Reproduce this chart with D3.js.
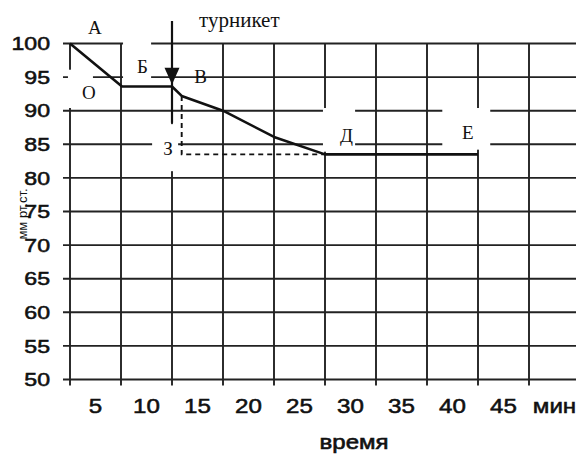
<!DOCTYPE html>
<html>
<head>
<meta charset="utf-8">
<script src="https://cdn.jsdelivr.net/npm/d3@7"></script>
<style>
  body { margin: 0; background: #fff; }
  svg { display: block; }
</style>
</head>
<body>
<div id="wrapper"></div>
<script>
// data
const times = [0, 5.1, 10, 10.95, 15, 20, 25, 40]          // minutes
const pressure = [100, 93.6, 93.6, 92.2, 90, 86.1, 83.5, 83.5] // mm Hg
// dashed projection from the point after the tourniquet
const dashTimes = [10.95, 10.95, 25]
const dashPressure = [92.2, 83.5, 83.5]

const yTicks = [50, 55, 60, 65, 70, 75, 80, 85, 90, 95, 100]
const xGrid = [0, 5, 10, 15, 20, 25, 30, 35, 40, 45]
const xLabels = ["5", "10", "15", "20", "25", "30", "35", "40", "45", "мин"]

function drawChart() {
  const width = 576
  const height = 455

  const svg = d3.select("#wrapper")
    .append("svg")
    .attr("width", width)
    .attr("height", height)

  const xScale = d3.scaleLinear().domain([0, 50]).range([70, 580])
  const yScale = d3.scaleLinear().domain([50, 100]).range([379.5, 43.5])

  const gridColor = "#222"
  const sans = "Liberation Sans, Arial, sans-serif"
  const serif = "Liberation Serif, Times New Roman, serif"

  // horizontal grid lines (with short ticks to the left)
  svg.append("g")
    .selectAll("line")
    .data(yTicks)
    .join("line")
      .attr("x1", xScale(0) - 7)
      .attr("x2", width)
      .attr("y1", d => yScale(d))
      .attr("y2", d => yScale(d))
      .attr("stroke", gridColor)
      .attr("stroke-width", 1.9)

  // vertical grid lines (with ticks below)
  svg.append("g")
    .selectAll("line")
    .data(xGrid)
    .join("line")
      .attr("x1", d => xScale(d))
      .attr("x2", d => xScale(d))
      .attr("y1", yScale(100))
      .attr("y2", yScale(50) + 6)
      .attr("stroke", gridColor)
      .attr("stroke-width", 1.9)

  // y labels
  svg.append("g")
    .selectAll("text")
    .data(yTicks)
    .join("text")
      .attr("transform", d => `translate(50,${yScale(d) + 6.7}) scale(1.25,1)`)
      .attr("text-anchor", "end")
      .attr("font-family", sans)
      .attr("font-size", 18.5)
      .attr("fill", "#111")
      .attr("stroke", "#111")
      .attr("stroke-width", 0.55)
      .text(d => d)

  // x labels sit between the grid lines
  svg.append("g")
    .selectAll("text")
    .data(xLabels)
    .join("text")
      .attr("transform", (d, i) => `translate(${xScale(xGrid[0] + 5 * i + 2.5)},413) scale(1.15,1)`)
      .attr("text-anchor", "middle")
      .attr("font-family", sans)
      .attr("font-size", 21)
      .attr("fill", "#111")
      .attr("stroke", "#111")
      .attr("stroke-width", 0.55)
      .text(d => d)

  svg.append("text")
    .attr("transform", "translate(354,449) scale(1.2,1)")
    .attr("text-anchor", "middle")
    .attr("font-family", sans)
    .attr("font-size", 20)
    .attr("fill", "#111")
    .attr("stroke", "#111")
    .attr("stroke-width", 0.6)
    .text("время")

  svg.append("text")
    .attr("transform", "translate(27,214) rotate(-90)")
    .attr("text-anchor", "middle")
    .attr("font-family", sans)
    .attr("font-size", 13)
    .attr("fill", "#111")
    .text("мм рт.ст.")

  // white boxes behind the letters (t0, t1, p0, p1)
  const boxes = [
    [5.2, 7.95, 101, 94],     // Б
    [-0.2, 2.25, 96.1, 90.4], // О
    [8.05, 10.6, 88, 81],     // З
    [24.8, 27.95, 90.4, 83.9],// Д
    [36.5, 41.2, 90.4, 84.2]  // Е
  ]
  svg.append("g")
    .selectAll("rect")
    .data(boxes)
    .join("rect")
      .attr("x", d => xScale(d[0]))
      .attr("width", d => xScale(d[1]) - xScale(d[0]))
      .attr("y", d => yScale(d[2]))
      .attr("height", d => yScale(d[3]) - yScale(d[2]))
      .attr("fill", "#fff")

  const line = d3.line()
    .x(d => xScale(d[0]))
    .y(d => yScale(d[1]))

  // dashed projection
  svg.append("path")
    .datum(d3.zip(dashTimes, dashPressure))
    .attr("d", line)
    .attr("fill", "none")
    .attr("stroke", "#111")
    .attr("stroke-width", 1.9)
    .attr("stroke-dasharray", "5,4")

  // pressure curve
  svg.append("path")
    .datum(d3.zip(times, pressure))
    .attr("d", line)
    .attr("fill", "none")
    .attr("stroke", "#111")
    .attr("stroke-width", 2.6)
    .attr("stroke-linejoin", "round")

  // tourniquet arrow
  const ax = xScale(10)
  svg.append("line")
    .attr("x1", ax).attr("x2", ax)
    .attr("y1", yScale(103.35)).attr("y2", yScale(88.2))
    .attr("stroke", "#111")
    .attr("stroke-width", 2.2)
  svg.append("path")
    .attr("d", `M${ax - 7.5},${yScale(96.4)} L${ax + 7.5},${yScale(96.4)} L${ax},${yScale(93.9)} Z`)
    .attr("fill", "#111")

  svg.append("text")
    .attr("x", 199)
    .attr("y", 27)
    .attr("font-family", serif)
    .attr("font-size", 21)
    .attr("fill", "#111")
    .text("турникет")

  // letters on the chart (t, p of the baseline centre)
  const letters = [
    ["А", 2.45, 101.4],
    ["Б", 7.1, 95.65],
    ["В", 12.8, 94.15],
    ["О", 1.85, 91.75],
    ["З", 9.6, 83.4],
    ["Д", 27.1, 85.4],
    ["Е", 39, 85.75]
  ]
  svg.append("g")
    .selectAll("text")
    .data(letters)
    .join("text")
      .attr("x", d => xScale(d[1]))
      .attr("y", d => yScale(d[2]))
      .attr("text-anchor", "middle")
      .attr("font-family", serif)
      .attr("font-size", 19)
      .attr("fill", "#111")
      .text(d => d[0])
}

drawChart()
</script>
</body>
</html>
